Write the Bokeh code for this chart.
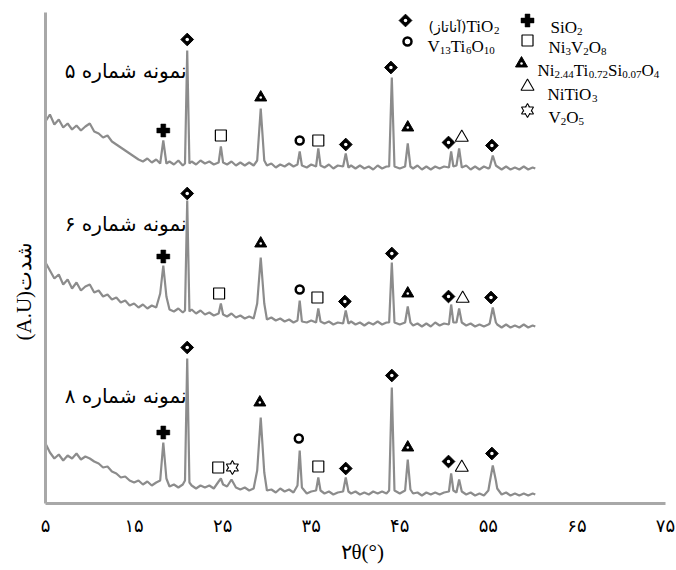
import math
from bokeh.plotting import figure
from bokeh.models import Range1d, FixedTicker, Label, Title
from bokeh.embed import file_html
from bokeh.resources import INLINE

# ---------------- data ----------------
two_theta = [
    5.0, 5.5, 6.0, 6.5, 7.0, 7.5, 8.0, 8.5, 9.0, 9.5,
    10.0, 10.5, 11.0, 11.5, 12.0, 12.5, 13.0, 13.5, 14.0, 14.5,
    15.0, 15.5, 16.0, 16.5, 17.0, 17.5, 17.95, 18.3, 18.65, 19.0,
    19.5, 20.0, 20.5, 20.75, 21.0, 21.25, 21.5, 22.0, 22.5, 23.0,
    23.5, 24.0, 24.55, 24.8, 25.05, 25.5, 26.0, 26.5, 27.0, 27.5,
    28.0, 28.5, 28.9, 29.3, 29.7, 30.0, 30.5, 31.0, 31.5, 32.0,
    32.5, 33.0, 33.45, 33.7, 33.95, 34.5, 35.0, 35.55, 35.8, 36.05,
    36.5, 37.0, 37.5, 38.0, 38.6, 38.9, 39.2, 39.5, 40.0, 40.5,
    41.0, 41.5, 42.0, 42.5, 43.0, 43.5, 43.8, 44.1, 44.4, 45.0,
    45.6, 45.9, 46.2, 46.5, 47.0, 47.5, 48.0, 48.5, 49.0, 49.5,
    50.0, 50.55, 50.8, 51.05, 51.4, 51.7, 52.0, 52.5, 53.0, 53.5,
    54.0, 54.5, 55.0, 55.15, 55.5, 55.85, 56.0, 56.5, 57.0, 57.5,
    58.0, 58.5, 59.0, 59.5, 60.0, 60.3,
]

sample5 = [
    382, 389, 379, 384, 376, 380, 374, 378, 373, 377,
    380, 372, 370, 366, 368, 362, 359, 356, 353, 350,
    347, 344, 342, 345, 341, 344, 340, 363, 340, 342,
    339, 343, 338, 340, 453, 340, 342, 339, 343, 340,
    342, 339, 341, 357, 341, 339, 342, 338, 341, 338,
    341, 338, 343, 395, 343, 338, 340, 336, 339, 337,
    340, 337, 339, 352, 338, 336, 339, 337, 355, 338,
    336, 339, 335, 338, 337, 350, 336, 338, 335, 338,
    335, 337, 334, 338, 335, 337, 337, 426, 337, 335,
    337, 360, 337, 335, 338, 334, 337, 334, 337, 335,
    337, 336, 352, 337, 338, 355, 336, 338, 334, 337,
    334, 337, 335, 336, 348, 338, 337, 334, 337, 334,
    336, 334, 337, 334, 336, 335,
]

sample6 = [
    241, 233, 225, 229, 219, 224, 215, 221, 213, 217,
    219, 211, 213, 207, 209, 204, 206, 201, 203, 198,
    200, 196, 199, 195, 198, 196, 210, 238, 207, 194,
    192, 195, 191, 193, 303, 192, 194, 190, 193, 189,
    191, 188, 190, 200, 189, 187, 190, 186, 188, 185,
    187, 185, 200, 246, 200, 184, 186, 183, 185, 182,
    184, 181, 183, 203, 182, 181, 183, 181, 195, 182,
    180, 182, 179, 181, 180, 193, 180, 182, 179, 181,
    178, 181, 179, 182, 179, 181, 181, 241, 181, 179,
    181, 197, 181, 178, 180, 177, 180, 177, 181, 178,
    180, 179, 199, 181, 181, 195, 181, 178, 180, 177,
    179, 177, 179, 180, 196, 181, 179, 176, 179, 176,
    178, 176, 179, 176, 178, 177,
]

sample8 = [
    60, 51, 45, 49, 43, 48, 45, 50, 44, 47,
    45, 42, 40, 36, 37, 32, 30, 26, 27, 23,
    21, 23, 19, 22, 18, 21, 23, 61, 25, 17,
    19, 16, 19, 23, 145, 21, 18, 15, 18, 16,
    18, 15, 22, 25, 19, 17, 24, 16, 14, 16,
    13, 15, 33, 86, 31, 13, 14, 11, 15, 12,
    14, 11, 18, 53, 16, 10, 12, 13, 26, 13,
    10, 12, 9, 11, 12, 26, 12, 10, 12, 9,
    11, 9, 12, 10, 12, 10, 13, 116, 13, 10,
    13, 44, 14, 10, 11, 8, 11, 9, 11, 9,
    11, 12, 30, 13, 11, 24, 12, 9, 11, 8,
    10, 8, 13, 21, 38, 23, 15, 9, 11, 8,
    10, 8, 10, 8, 10, 9,
]

tick_values = [5, 15, 25, 35, 45, 55, 65, 75]
tick_labels = ["۵", "۱۵", "۲۵", "۳۵", "۴۵", "۵۵", "۶۵", "۷۵"]

sample_names = ["نمونه شماره ۵", "نمونه شماره ۶", "نمونه شماره ۸"]

# phase markers (2theta, height)
anatase_x = [21.0, 38.9, 44.0, 50.5, 55.4, 21.0, 38.8, 44.1, 50.5, 55.3, 21.0, 38.9, 44.1, 50.5, 55.4]
anatase_y = [464, 359, 436, 361, 358, 310, 202, 250, 207, 206, 156, 35, 128, 42, 50]
sio2_x = [18.3, 18.3, 18.3]
sio2_y = [373, 247, 71]
ni3v2o8_x = [24.8, 35.8, 24.6, 35.7, 24.5, 35.8]
ni3v2o8_y = [368, 363, 210, 206, 36, 37]
nitisio_x = [29.3, 45.9, 29.3, 45.9, 29.2, 45.9]
nitisio_y = [406, 376, 260, 210, 101, 56]
v13ti6o10_x = [33.7, 33.7, 33.6]
v13ti6o10_y = [363, 214, 65]
nitio3_x = [52.0, 52.1, 52.0]
nitio3_y = [366, 205, 36]
v2o5_x = [26.1]
v2o5_y = [36]

# ---------------- layout helpers (page pixels -> data) ----------------
def px2x(px):
    return 5 + (px - 45) / 8.857


def py2y(py):
    return 503 - py


LINE = "#8c8c8c"
AXIS = "#a8a8a8"

p = figure(width=676, height=570, x_range=Range1d(5, 75), y_range=Range1d(0, 491),
           output_backend="svg", toolbar_location=None,
           min_border_left=45, min_border_right=11, min_border_top=12, min_border_bottom=67)
p.outline_line_color = None
p.xgrid.visible = False
p.ygrid.visible = False
p.background_fill_color = "white"
p.border_fill_color = "white"

p.xaxis.ticker = FixedTicker(ticks=tick_values)
p.xaxis.major_label_overrides = {v: t for v, t in zip(tick_values, tick_labels)}
p.xaxis.axis_line_color = AXIS
p.xaxis.axis_line_width = 3
p.xaxis.major_tick_line_color = None
p.xaxis.minor_tick_line_color = None
p.xaxis.major_tick_out = 0
p.xaxis.major_tick_in = 0
p.xaxis.major_label_standoff = 11
p.xaxis.major_label_text_font = "DejaVu Sans"
p.xaxis.major_label_text_font_size = "18px"
p.xaxis.major_label_text_color = "black"

p.yaxis.ticker = FixedTicker(ticks=[])
p.yaxis.axis_line_color = AXIS
p.yaxis.axis_line_width = 3
p.yaxis.major_tick_line_color = None
p.yaxis.minor_tick_line_color = None
p.yaxis.major_tick_out = 0
p.yaxis.major_tick_in = 0
p.yaxis.major_label_standoff = 0
p.yaxis.major_label_text_font_size = "0px"

# axis titles as side titles (so they can be offset like the reference)
p.add_layout(Title(text="(A.U)شدت", align="left", offset=163, vertical_align="middle",
                   text_font="Liberation Serif", text_font_size="21px",
                   text_font_style="normal", text_color="black", standoff=18), "left")
p.add_layout(Title(text="۲θ(°)", align="left", offset=295, vertical_align="middle",
                   text_font="Liberation Serif", text_font_size="21px",
                   text_font_style="normal", text_color="black", standoff=0), "below")

for ys in (sample5, sample6, sample8):
    p.line(two_theta, ys, line_color=LINE, line_width=2.2)


def anatase(xs, ys):
    p.scatter(xs, ys, marker="square", angle=math.pi / 4, size=9,
              fill_color="black", line_color="black", line_width=1)
    p.scatter(xs, ys, marker="circle", size=3.5, fill_color="white", line_color=None)


def sio2(xs, ys):
    p.scatter(xs, ys, marker="plus", size=13, fill_color="black", line_color="black", line_width=0.5)


def ni3v2o8(xs, ys):
    p.scatter(xs, ys, marker="square", size=11, fill_color="white", line_color="black", line_width=1.2)


def nitisio(xs, ys):
    p.scatter(xs, ys, marker="triangle", size=12, fill_color="black", line_color="black", line_width=1)
    p.scatter(xs, ys, marker="circle", size=2.5, fill_color="white", line_color=None)


def v13(xs, ys):
    p.scatter(xs, ys, marker="circle", size=8, fill_color="white", line_color="black", line_width=2.5)


def nitio3(xs, ys):
    p.scatter(xs, ys, marker="triangle", size=13, fill_color="white", line_color="black", line_width=1.1)


def v2o5(xs, ys):
    for m in ("triangle", "inverted_triangle"):
        p.scatter(xs, ys, marker=m, size=12, fill_color="white", line_color="black", line_width=1.1)
    for m in ("triangle", "inverted_triangle"):
        p.scatter(xs, ys, marker=m, size=8.5, fill_color="white", line_color=None)


anatase(anatase_x, anatase_y)
sio2(sio2_x, sio2_y)
ni3v2o8(ni3v2o8_x, ni3v2o8_y)
nitisio(nitisio_x, nitisio_y)
v13(v13ti6o10_x, v13ti6o10_y)
nitio3(nitio3_x, nitio3_y)
v2o5(v2o5_x, v2o5_y)

# sample names
for name, cy in zip(sample_names, [70, 223, 395]):
    p.add_layout(Label(x=px2x(186), y=py2y(cy), text=name, text_font="DejaVu Sans",
                       text_font_size="20px", text_align="right", text_baseline="middle",
                       text_color="black"))

# legend
TW = {"N": 0.722, "i": 0.278, "T": 0.611, "S": 0.556, "O": 0.722, "V": 0.722, ".": 0.25}


def formula(x_px, base_py, parts, size=17, sub_size=11):
    x = x_px
    for txt, sub in parts:
        fs = sub_size if sub else size
        yb = base_py + (4 if sub else 0)
        p.add_layout(Label(x=px2x(x), y=py2y(yb), text=txt, text_font="Liberation Serif",
                           text_font_size=f"{fs}px", text_baseline="alphabetic",
                           text_align="left", text_color="black"))
        x += sum(TW.get(c, 0.5) for c in txt) * fs


anatase([px2x(405)], [py2y(20)])
p.add_layout(Label(x=px2x(466), y=py2y(26), text="(آناتاز)", text_font="DejaVu Sans",
                   text_font_size="14px", text_align="right", text_baseline="alphabetic",
                   text_color="black"))
formula(466, 26, [("TiO", 0), ("2", 1)])

v13([px2x(407)], [py2y(41)])
formula(427, 46, [("V", 0), ("13", 1), ("Ti", 0), ("6", 1), ("O", 0), ("10", 1)])

sio2([px2x(527)], [py2y(20)])
formula(550, 27, [("SiO", 0), ("2", 1)])

ni3v2o8([px2x(527)], [py2y(40)])
formula(548, 47, [("Ni", 0), ("3", 1), ("V", 0), ("2", 1), ("O", 0), ("8", 1)])

nitisio([px2x(521)], [py2y(63)])
formula(537, 70, [("Ni", 0), ("2.44", 1), ("Ti", 0), ("0.72", 1), ("Si", 0), ("0.07", 1),
                  ("O", 0), ("4", 1)])

nitio3([px2x(527)], [py2y(86)])
formula(547, 94, [("NiTiO", 0), ("3", 1)])

v2o5([px2x(527)], [py2y(110)])
formula(548, 117, [("V", 0), ("2", 1), ("O", 0), ("5", 1)])

open("out.html", "w").write(file_html(p, INLINE))
